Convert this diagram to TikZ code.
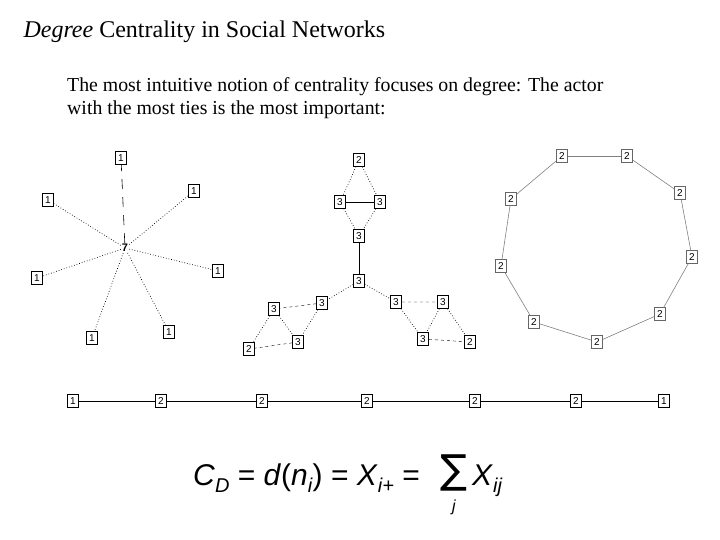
\documentclass[tikz,border=0pt]{standalone}
\usepackage{fontspec}
\setmainfont{Liberation Serif}
\newfontfamily\arialf{Liberation Sans}
\newfontfamily\dejavuf{DejaVu Sans}
\begin{document}
\begin{tikzpicture}[x=1pt,y=-1pt,
  nb/.style={draw,line width=0.6pt,inner sep=1.5pt,minimum width=11pt,minimum height=13pt,font=\arialf\fontsize{10}{10}\selectfont},
  gb/.style={nb,draw=gray!80!black},
  dl/.style={dotted,line width=0.7pt},
  sl/.style={line width=0.5pt},
  gl/.style={line width=0.6pt,gray},
  fm/.style={font=\arialf\fontsize{30}{30}\selectfont,inner sep=0pt}]
\useasboundingbox (0,0) rectangle (720,540);
\node[anchor=west,font=\fontsize{24}{28}\selectfont] (title) at (20,32) {\textit{Degree} Centrality in Social Networks};
\node[anchor=north west,align=left,font=\fontsize{19.8}{23}\selectfont,inner sep=0pt] (txt) at (67,77) {The most intuitive notion of centrality focuses on degree: The actor\\with the most ties is the most important:};
% star
\node[font=\arialf\bfseries\fontsize{11}{11}\selectfont,inner sep=1pt] (c) at (125,248) {7};
\foreach \n/\x/\y in {a/121/158,b/194/191,d/48/200,e/218/271,f/37/278,g/92/338,h/169/332}
  \node[nb] (s\n) at (\x,\y) {1};
\draw[line width=0.6pt,dash pattern=on 10pt off 8pt] (c) -- (sa);
\foreach \n in {b,d,e,f,g,h} \draw[dl] (c) -- (s\n);
% middle network
\foreach \n/\x/\y/\l in {t/359/160/2,l/340/202/3,r/380/202/3,m/359/236/3,c/359/281/3,
  p/322/303/3,q/274/309/3,u/298/342/3,v/249/349/2,
  w/396/302/3,z/443/302/3,y/423/339/3,k/470/342/2}
  \node[nb] (m\n) at (\x,\y) {\l};
\draw[dl] (mt)--(ml) (mt)--(mr) (ml)--(mm) (mr)--(mm);
\draw[sl] (ml)--(mr) (mm)--(mc);
\draw[dl] (mc)--(mp) (mc)--(mw);
\draw[dashed] (mp)--(mq) (mu)--(mv) (mw)--(mz) (my)--(mk);
\draw[dl] (mp)--(mu) (mq)--(mu) (mq)--(mv) (mw)--(my) (mz)--(my) (mz)--(mk);
% ring
\foreach \i/\x/\y in {1/562/156,2/627/156,3/680/193,4/692/257,5/660/314,6/597/342,7/534/322,8/501/266,9/511/199}
  \node[gb] (r\i) at (\x,\y) {2};
\foreach \i/\j in {1/2,2/3,3/4,4/5,5/6,6/7,7/8,8/9,9/1} \draw[gl] (r\i)--(r\j);
% line
\foreach \i/\x/\l in {1/73/1,2/161/2,3/262/2,4/367/2,5/475/2,6/576/2,7/664/1}
  \node[nb] (l\i) at (\x,401) {\l};
\foreach \i/\j in {1/2,2/3,3/4,4/5,5/6,6/7} \draw[sl] (l\i)--(l\j);
% formula
\node[fm,anchor=base west] (f) at (193,485)
 {\textit{C}\raisebox{-0.25em}{\fontsize{20}{20}\selectfont\textit{D}} = \textit{d}(\textit{n}\raisebox{-0.25em}{\fontsize{20}{20}\selectfont\textit{i}}) = \textit{X}\raisebox{-0.25em}{\fontsize{20}{20}\selectfont\textit{i+}} =};
\node[inner sep=0pt,font=\dejavuf\fontsize{40}{40}\selectfont] (sum) at (454,473) {∑};
\node[inner sep=0pt,font=\arialf\itshape\fontsize{16}{16}\selectfont] (j) at (454,507) {j};
\node[fm,anchor=base west] (xij) at (472,485) {\textit{X}\raisebox{-0.25em}{\fontsize{20}{20}\selectfont\textit{ij}}};
\end{tikzpicture}
\end{document}
